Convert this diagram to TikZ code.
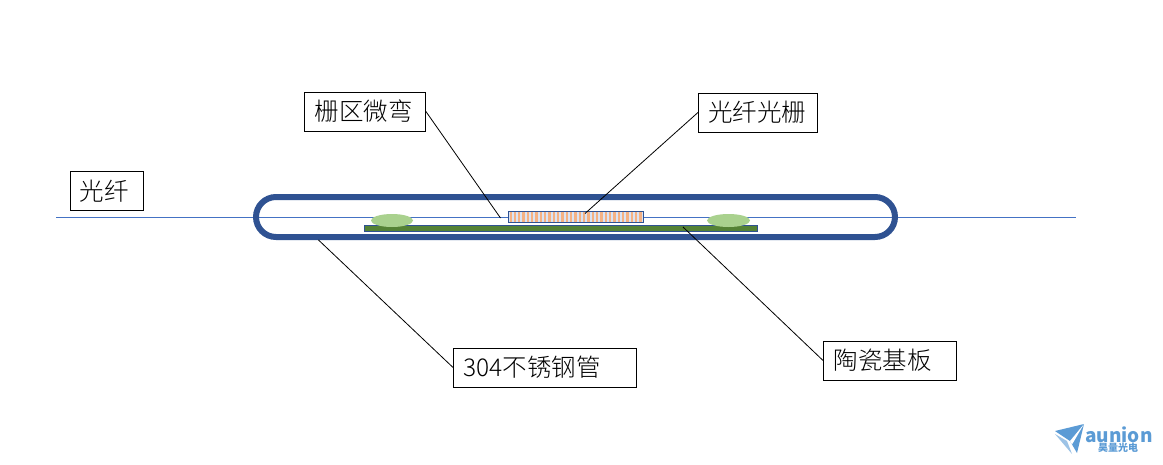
\documentclass[tikz,border=0pt]{standalone}
\usepackage{fontspec}
\usetikzlibrary{shapes.geometric}
\setmainfont{Noto Sans CJK SC}
\newfontfamily\lightcjk{Noto Sans CJK SC Light}
\definecolor{tube}{HTML}{2F5292}
\definecolor{fibre}{HTML}{4472C4}
\definecolor{subst}{HTML}{548235}
\definecolor{glue}{HTML}{A9D18E}
\definecolor{stripeA}{HTML}{F4B183}
\definecolor{stripeB}{HTML}{DAE3F3}
\definecolor{logoA}{HTML}{5B9BD5}
\definecolor{logoB}{HTML}{9DC3E6}
\tikzset{
  labelbox/.style={draw=black,line width=0.9pt,fill=white,inner sep=0pt,anchor=north west,align=left,minimum height=39pt,font=\lightcjk\fontsize{24.5}{24.5}\selectfont},
  leader/.style={draw=black,line width=0.8pt},
}
\begin{document}
\begin{tikzpicture}[x=1pt,y=-1pt]
\useasboundingbox (0,0) rectangle (1163,464);
\fill[white] (0,0) rectangle (1163,464);
% fibre
\coordinate (fibL) at (56,217.3);
\coordinate (fibR) at (1076,217.3);
\draw[fibre,line width=0.9pt] (fibL) -- (fibR);
% tube
\draw[tube,line width=6pt,rounded corners=20pt] (256,197) rectangle (895,237);
% substrate
\node[draw=tube,fill=subst,line width=0.8pt,minimum width=393pt,minimum height=5.5pt,inner sep=0pt,anchor=north west] (substrate) at (364.4,225) {};
% glue
\node[ellipse,fill=glue,minimum width=42pt,minimum height=13pt,inner sep=0pt] (glueL) at (392,220.5) {};
\node[ellipse,fill=glue,minimum width=43pt,minimum height=13pt,inner sep=0pt] (glueR) at (728.5,220.5) {};
% grating
\fill[stripeB] (508,211) rectangle (643.5,222);
\foreach \i in {0,...,30} {
  \fill[stripeA] ({509.5+\i*4.33},211) rectangle ({511.7+\i*4.33},222);
}
\node[draw=tube,line width=0.9pt,minimum width=135.2pt,minimum height=11pt,inner sep=0pt,anchor=north west] (grating) at (508.2,211) {};
% labels
\node[labelbox,text width=121pt] (lgrid) at (304,91.5) {\hspace{10.5pt}栅区微弯};
\node[labelbox,text width=119pt] (lfbg) at (698,92.5) {\hspace{10pt}光纤光栅};
\node[labelbox,text width=73pt] (lfib) at (70,171) {\hspace{9.5pt}光纤};
\node[labelbox,text width=183pt] (ltube) at (453,347.5) {\hspace{10pt}304不锈钢管};
\node[labelbox,text width=133pt] (lcer) at (823,340.5) {\hspace{10.5pt}陶瓷基板};
% leaders
\coordinate (pBend) at (500.5,218);
\coordinate (pFbg) at (585,213.5);
\coordinate (pTube) at (318.5,240);
\coordinate (pCer) at (683,227);
\draw[leader] (lgrid.east) -- (pBend);
\draw[leader] (lfbg.west) -- (pFbg);
\draw[leader] (ltube.west) -- (pTube);
\draw[leader] (lcer.west) -- (pCer);
% logo
\fill[logoA] (1055,431) -- (1084,424) -- (1077,453) -- (1070,441) -- cycle;
\fill[white] (1084,424) -- (1070,441) -- (1072,444.5) -- cycle;
\fill[logoB] (1055,434) -- (1067,441) -- (1072,454) -- cycle;
\node[inner sep=0pt,anchor=center,text=logoA,font=\bfseries\fontsize{19}{19}\selectfont] (logoT) at (1119,434.5) {aunion};
\node[inner sep=0pt,anchor=center,text=logoA,font=\bfseries\fontsize{10}{10}\selectfont] (logoC) at (1118,448) {昊量光电};
\end{tikzpicture}
\end{document}
